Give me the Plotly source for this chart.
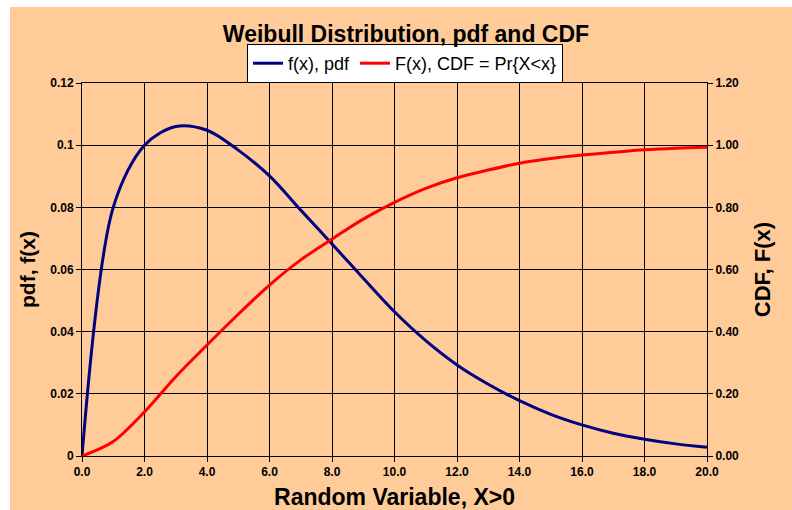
import plotly.graph_objects as go

x_vals = [0, 1, 2, 3, 4, 5, 6, 7, 8, 9, 10, 11, 12, 13, 14, 15, 16, 17, 18, 19, 20]
pdf_vals = [0.0, 0.080, 0.100, 0.106, 0.1048, 0.0984, 0.0901, 0.0791, 0.0682, 0.0572,
            0.0464, 0.0371, 0.0293, 0.0231, 0.0178, 0.0134, 0.0100, 0.0073, 0.0054,
            0.0039, 0.0028]
cdf_vals = [0.0, 0.047, 0.142, 0.255, 0.357, 0.456, 0.550, 0.631, 0.698, 0.762, 0.816,
            0.861, 0.895, 0.920, 0.942, 0.957, 0.968, 0.977, 0.985, 0.990, 0.993]

title_text = "Weibull Distribution, pdf and CDF"
pdf_name = "f(x), pdf"
cdf_name = "F(x), CDF = Pr{X<x}"
x_title = "Random Variable, X>0"
y_title = "pdf, f(x)"
y2_title = "CDF, F(x)"

PEACH = "#FFCC99"
FONT = "Liberation Sans, Arial, sans-serif"

W, H = 792, 510
L, R, T, B = 82, 85, 83, 54
pw, ph = W - L - R, H - T - B

fig = go.Figure()
fig.add_trace(go.Scatter(x=x_vals, y=pdf_vals, name=pdf_name, mode="lines",
                         line=dict(color="#000080", width=3, shape="spline", smoothing=0.9)))
fig.add_trace(go.Scatter(x=x_vals, y=cdf_vals, name=cdf_name, mode="lines", yaxis="y2",
                         line=dict(color="#FF0000", width=3, shape="spline", smoothing=0.9)))

# peach chart background (with white strip at top/left as in the reference)
fig.add_shape(type="rect", xref="paper", yref="paper", layer="below",
              x0=(10 - L) / pw, x1=(W + 5 - L) / pw,
              y0=-(B + 5) / ph, y1=(H - B - 7) / ph,
              fillcolor=PEACH, line=dict(width=0))

fig.update_layout(
    width=W, height=H,
    margin=dict(l=L, r=R, t=T, b=B, autoexpand=False),
    paper_bgcolor="white",
    plot_bgcolor="white",
    font=dict(family=FONT, color="black"),
    title=dict(text=title_text, x=406 / W, xanchor="center", y=1 - 34 / H, yanchor="middle",
               font=dict(size=23, weight="bold", family=FONT)),
    showlegend=True,
    legend=dict(orientation="h", x=(405 - L) / pw, xanchor="center",
                y=(H - B - 44) / ph, yanchor="top",
                bgcolor="white", bordercolor="black", borderwidth=1,
                font=dict(size=18, family=FONT), itemwidth=30,
                tracegroupgap=0),
    xaxis=dict(range=[0, 20], tickvals=x_vals[::2], tickformat=".1f",
               showgrid=True, gridcolor="black", gridwidth=1,
               showline=True, linecolor="black", linewidth=1, mirror=True,
               ticks="outside", ticklen=5, tickcolor="black",
               tickfont=dict(size=12, weight="bold"), automargin=False,
               title=dict(text=x_title, font=dict(size=23, weight="bold"), standoff=11),
               zeroline=False),
    yaxis=dict(range=[0, 0.12], dtick=0.02,
               showgrid=True, gridcolor="black", gridwidth=1,
               showline=True, linecolor="black", linewidth=1,
               ticks="outside", ticklen=5, tickcolor="black",
               tickfont=dict(size=12, weight="bold"), automargin=False,
               title=dict(text=y_title, font=dict(size=21, weight="bold"), standoff=8),
               zeroline=False),
    yaxis2=dict(range=[0, 1.2], dtick=0.2, tickformat=".2f", overlaying="y", side="right",
                showgrid=False, showline=True, linecolor="black", linewidth=1,
                ticks="outside", ticklen=5, tickcolor="black",
                tickfont=dict(size=12, weight="bold"), automargin=False,
                title=dict(text=y2_title, font=dict(size=22, weight="bold"), standoff=16),
                zeroline=False),
)

fig.write_html("out.html")
